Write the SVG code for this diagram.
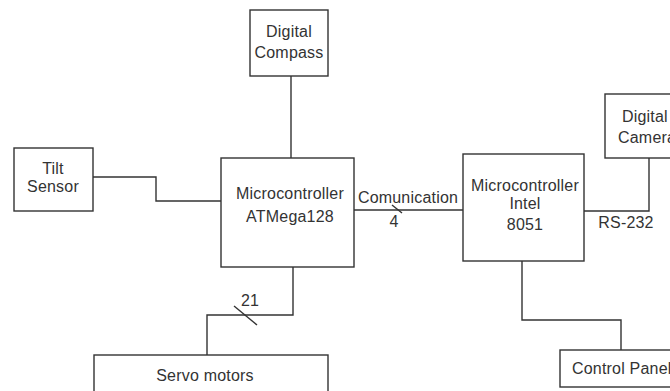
<svg xmlns="http://www.w3.org/2000/svg" width="670" height="391" viewBox="0 0 670 391">
<style>
.box{fill:#fff;stroke:#333;stroke-width:1.4}
.ln{fill:none;stroke:#333;stroke-width:1.4}
text{font-family:"Liberation Sans",Arial,sans-serif;font-size:16px;fill:#333;letter-spacing:0.2px}
.c{text-anchor:middle}
</style>
<rect width="670" height="391" fill="#fff"/>
<g id="connectors">
<path class="ln" d="M291,76 V158"/>
<path class="ln" d="M93,177 H156 V201 H221"/>
<path class="ln" d="M354,210 H463"/>
<path class="ln" d="M392,205 L402,213"/>
<path class="ln" d="M293,267 V315 H207 V355"/>
<path class="ln" d="M234,306 L257,325"/>
<path class="ln" d="M584,211 H649 V158"/>
<path class="ln" d="M522,261 V320 H621 V350"/>
<text x="408" y="203" class="c">Comunication</text>
<text x="394" y="227" class="c">4</text>
<text x="250" y="306" class="c">21</text>
<text x="626" y="228" class="c">RS-232</text>
</g>
<g id="compass">
<rect class="box" x="250" y="10" width="78" height="66"/>
<text x="289" y="37" class="c">Digital</text>
<text x="289" y="58" class="c">Compass</text>
</g>
<g id="tilt">
<rect class="box" x="14" y="148" width="79" height="63"/>
<text x="53" y="174" class="c">Tilt</text>
<text x="53" y="192" class="c">Sensor</text>
</g>
<g id="atmega">
<rect class="box" x="221" y="158" width="133" height="109"/>
<text x="290" y="199" class="c">Microcontroller</text>
<text x="290" y="222" class="c">ATMega128</text>
</g>
<g id="intel">
<rect class="box" x="463" y="154" width="121" height="107"/>
<text x="525" y="191" class="c">Microcontroller</text>
<text x="525" y="209" class="c">Intel</text>
<text x="525" y="230" class="c">8051</text>
</g>
<g id="camera">
<rect class="box" x="605" y="94" width="70" height="64"/>
<text x="622" y="122">Digital</text>
<text x="618" y="143">Camera</text>
</g>
<g id="servo">
<rect class="box" x="94" y="355" width="234" height="45"/>
<text x="205" y="381" class="c">Servo motors</text>
</g>
<g id="panel">
<rect class="box" x="560" y="350" width="120" height="37"/>
<text x="572" y="374">Control Panel</text>
</g>
</svg>
